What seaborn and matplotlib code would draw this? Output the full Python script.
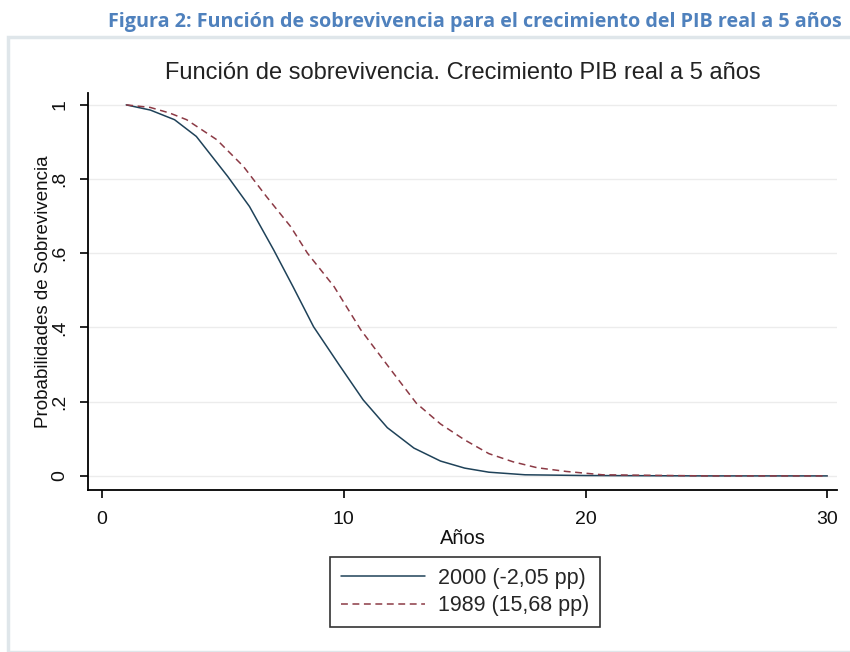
import numpy as np
import pandas as pd
import matplotlib
matplotlib.use("Agg")
import matplotlib.pyplot as plt
import seaborn as sns
from matplotlib.patches import Rectangle

# ---- data ----
years_2000 = [1, 2, 3, 3.9, 5.2, 6.1, 7.1, 7.9, 8.75, 9.8, 10.8, 11.8, 12.9, 14, 15, 16, 17.5, 20, 25, 30]
surv_2000 = [1, 0.986, 0.96, 0.915, 0.807, 0.726, 0.609, 0.51, 0.402, 0.30, 0.205, 0.13, 0.075, 0.04,
             0.021, 0.01, 0.003, 0.001, 0, 0]
years_1989 = [1, 2, 2.8, 3.5, 4.75, 5.85, 6.8, 7.8, 8.5, 9.6, 10.7, 11.9, 13, 14, 15, 16, 17, 18, 19.2,
              20.7, 25, 30]
surv_1989 = [1, 0.993, 0.978, 0.96, 0.906, 0.834, 0.753, 0.672, 0.6, 0.51, 0.394, 0.29, 0.196, 0.14,
             0.097, 0.06, 0.038, 0.022, 0.012, 0.003, 0, 0]
series_labels = ["2000 (-2,05 pp)", "1989 (15,68 pp)"]
x_ticks = [0, 10, 20, 30]
y_ticks = [0, 0.2, 0.4, 0.6, 0.8, 1.0]
y_tick_labels = ["0", ".2", ".4", ".6", ".8", "1"]

df = pd.concat([
    pd.DataFrame({"Años": years_2000, "surv": surv_2000, "serie": series_labels[0]}),
    pd.DataFrame({"Años": years_1989, "surv": surv_1989, "serie": series_labels[1]}),
], ignore_index=True)

sns.set_theme(style="white")
plt.rcParams["font.family"] = ["Liberation Sans", "DejaVu Sans"]

W, H = 850, 652
fig = plt.figure(figsize=(W / 100, H / 100), dpi=100)
fig.patch.set_facecolor("white")

# outer light frame (Stata graph region)
fig.patches.append(Rectangle((8 / W, 0), 1, 1 - 37 / H, transform=fig.transFigure,
                             facecolor="white", edgecolor="#dfe6ea", linewidth=2.5, zorder=-10))

ax = fig.add_axes([88 / W, (H - 490) / H, (837 - 88) / W, (490 - 93) / H])
ax.set_zorder(2)
ax.set_facecolor("white")

palette = {series_labels[0]: "#1f4259", series_labels[1]: "#8c3a45"}
dashes = {series_labels[0]: "", series_labels[1]: (4.5, 3)}
sns.lineplot(data=df, x="Años", y="surv", hue="serie", style="serie", palette=palette,
             dashes=dashes, linewidth=1.1, ax=ax, legend=True)

ax.set_xlim(-0.58, 30.4)
ax.set_ylim(-0.038, 1.032)
ax.set_xticks(x_ticks)
ax.set_yticks(y_ticks)
ax.set_yticklabels(y_tick_labels, rotation=90, va="center")
ax.tick_params(axis="both", direction="out", length=6, width=1.2, color="black",
               labelsize=14, labelcolor="#111111", bottom=True, left=True)
ax.tick_params(axis="x", pad=9)
ax.tick_params(axis="y", pad=8)
ax.yaxis.grid(True, color="#ececec", linewidth=1)
ax.xaxis.grid(False)
for s in ["top", "right"]:
    ax.spines[s].set_visible(False)
for s in ["left", "bottom"]:
    ax.spines[s].set_color("black")
    ax.spines[s].set_linewidth(1.3)

ax.set_xlabel("Años", fontsize=14.5, color="#111111", labelpad=1)
ax.set_ylabel("Probabilidades de Sobrevivencia", fontsize=13.5, color="#111111", labelpad=0)
ax.set_title("Función de sobrevivencia. Crecimiento PIB real a 5 años", fontsize=17,
             color="#222222", pad=10)

handles, labels = ax.get_legend_handles_labels()
ax.legend_.remove()
leg = fig.legend(handles, labels, loc="upper center", bbox_to_anchor=(465 / W, 1 - 557 / H),
                 fontsize=15.5, frameon=True, fancybox=False, edgecolor="black",
                 handlelength=3.9, borderpad=0.5, labelspacing=0.3, handletextpad=0.6,
                 borderaxespad=0)
leg.get_frame().set_linewidth(1.2)
leg.set_zorder(3)

fig.text(108 / W, 1 - 22 / H,
         "Figura 2: Función de sobrevivencia para el crecimiento del PIB real a 5 años",
         color="#4f81bd", fontsize=14.2, fontweight="bold", va="center", ha="left",
         family=["Open Sans", "DejaVu Sans"])

fig.savefig("out.png", dpi=100, facecolor="white")
